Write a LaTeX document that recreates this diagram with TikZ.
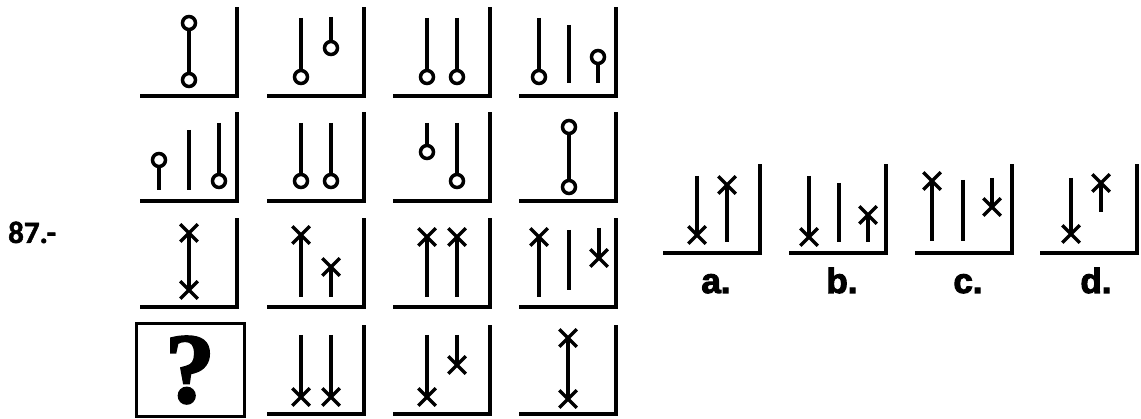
\documentclass[tikz,border=0pt]{standalone}
\usepackage{fontspec}
\usetikzlibrary{shapes.misc}
\newfontfamily\labfont{Liberation Sans}[BoldFeatures={FakeBold=3}]
\newfontfamily\qfont{Liberation Serif}[BoldFeatures={FakeBold=2}]
\newfontfamily\numfont{Carlito}[BoldFeatures={FakeBold=1.5}]
\tikzset{
  frameline/.style={line width=4.5pt, line cap=butt, line join=miter},
  stick/.style={line width=3.5pt},
  circ/.style={circle, draw, line width=3.5pt, fill=white, inner sep=0pt, minimum size=13pt},
  xmark/.style={cross out, draw, line width=3.5pt, inner sep=0pt, minimum size=14pt},
  lab/.style={font=\labfont\bfseries\fontsize{35}{40}\selectfont, anchor=base, inner sep=0pt}
}
% frame: name, left x, bottom y
\newcommand\cellL[3]{\draw[frameline] (#2,#3) coordinate (#1a) -- ++(97,0) coordinate (#1b) -- ++(0,-89) coordinate (#1c);}
% stick with circle: name, x, free end y, circle y
\newcommand\stO[4]{\coordinate (#1e) at (#2,#3); \node[circ] (#1o) at (#2,#4) {}; \draw[stick] (#1e) -- (#1o);}
% stick with cross
\newcommand\stX[4]{\coordinate (#1e) at (#2,#3); \node[xmark] (#1x) at (#2,#4) {}; \draw[stick] (#1e) -- (#1x.center);}
% plain line
\newcommand\pln[4]{\coordinate (#1p) at (#2,#3); \coordinate (#1q) at (#2,#4); \draw[stick] (#1p) -- (#1q);}
% two circles joined
\newcommand\dbO[4]{\node[circ] (#1u) at (#2,#3) {}; \node[circ] (#1v) at (#2,#4) {}; \draw[stick] (#1u) -- (#1v);}
% two crosses joined
\newcommand\dbX[4]{\node[xmark] (#1u) at (#2,#3) {}; \node[xmark] (#1v) at (#2,#4) {}; \draw[stick] (#1u.center) -- (#1v.center);}
\begin{document}
\begin{tikzpicture}[x=1pt,y=-1pt]
\useasboundingbox (0,0) rectangle (1141,419);
\fill[white] (0,0) rectangle (1141,419);

\node[font=\numfont\bfseries\fontsize{31}{34}\selectfont, anchor=base west, inner sep=0pt] (num) at (8,243) {87.-};

% ---- row 1
\cellL{f11}{140}{96}
\dbO{r11}{189}{23}{80}
\cellL{f12}{267}{96}
\stO{r12a}{301}{18}{77}
\stO{r12b}{331}{17}{48}
\cellL{f13}{393}{96}
\stO{r13a}{427}{18}{77}
\stO{r13b}{457}{18}{77}
\cellL{f14}{519}{96}
\stO{r14a}{539}{18}{77}
\pln{r14b}{569}{25}{83}
\stO{r14c}{598}{83}{57}

% ---- row 2
\cellL{f21}{140}{201}
\stO{r21a}{159}{190}{160}
\pln{r21b}{189}{130}{190}
\stO{r21c}{219}{123}{181}
\cellL{f22}{267}{201}
\stO{r22a}{301}{123}{181}
\stO{r22b}{331}{123}{181}
\cellL{f23}{393}{201}
\stO{r23a}{427}{123}{152}
\stO{r23b}{457}{123}{181}
\cellL{f24}{519}{201}
\dbO{r24}{569}{127}{187}

% ---- row 3
\cellL{f31}{140}{307}
\dbX{r31}{189}{233}{290}
\cellL{f32}{267}{307}
\stX{r32a}{301}{297}{235}
\stX{r32b}{331}{297}{267}
\cellL{f33}{393}{307}
\stX{r33a}{427}{297}{237}
\stX{r33b}{457}{297}{237}
\cellL{f34}{519}{307}
\stX{r34a}{539}{297}{237}
\pln{r34b}{569}{230}{290}
\stX{r34c}{599}{228}{258}

% ---- row 4
\node[draw, line width=3pt, minimum width=108pt, minimum height=93pt, inner sep=0pt] (qbox) at (190,370) {};
\node[font=\qfont\bfseries\fontsize{100}{110}\selectfont, inner sep=0pt] (qmark) at (qbox.center) {?};
\cellL{f42}{267}{414}
\stX{r42a}{301}{335}{397}
\stX{r42b}{331}{335}{397}
\cellL{f43}{393}{414}
\stX{r43a}{427}{335}{397}
\stX{r43b}{457}{335}{365}
\cellL{f44}{519}{414}
\dbX{r44}{568}{338}{399}

% ---- answers
\cellL{fa}{663}{253}
\stX{aa}{697}{176}{235}
\stX{ab}{727}{242}{185}
\node[lab] (la) at (716,293) {a.};

\cellL{fb}{789}{253}
\stX{ba}{809}{176}{237}
\pln{bb}{839}{183}{242}
\stX{bc}{868}{242}{215}
\node[lab] (lb) at (842,293) {b.};

\cellL{fc}{915}{253}
\stX{ca}{932}{241}{181}
\pln{cb}{963}{180}{241}
\stX{cc}{992}{178}{207}
\node[lab] (lc) at (968,293) {c.};

\cellL{fd}{1040}{253}
\stX{da}{1071}{178}{234}
\stX{db}{1101}{212}{183}
\node[lab] (ld) at (1096,293) {d.};
\end{tikzpicture}
\end{document}
